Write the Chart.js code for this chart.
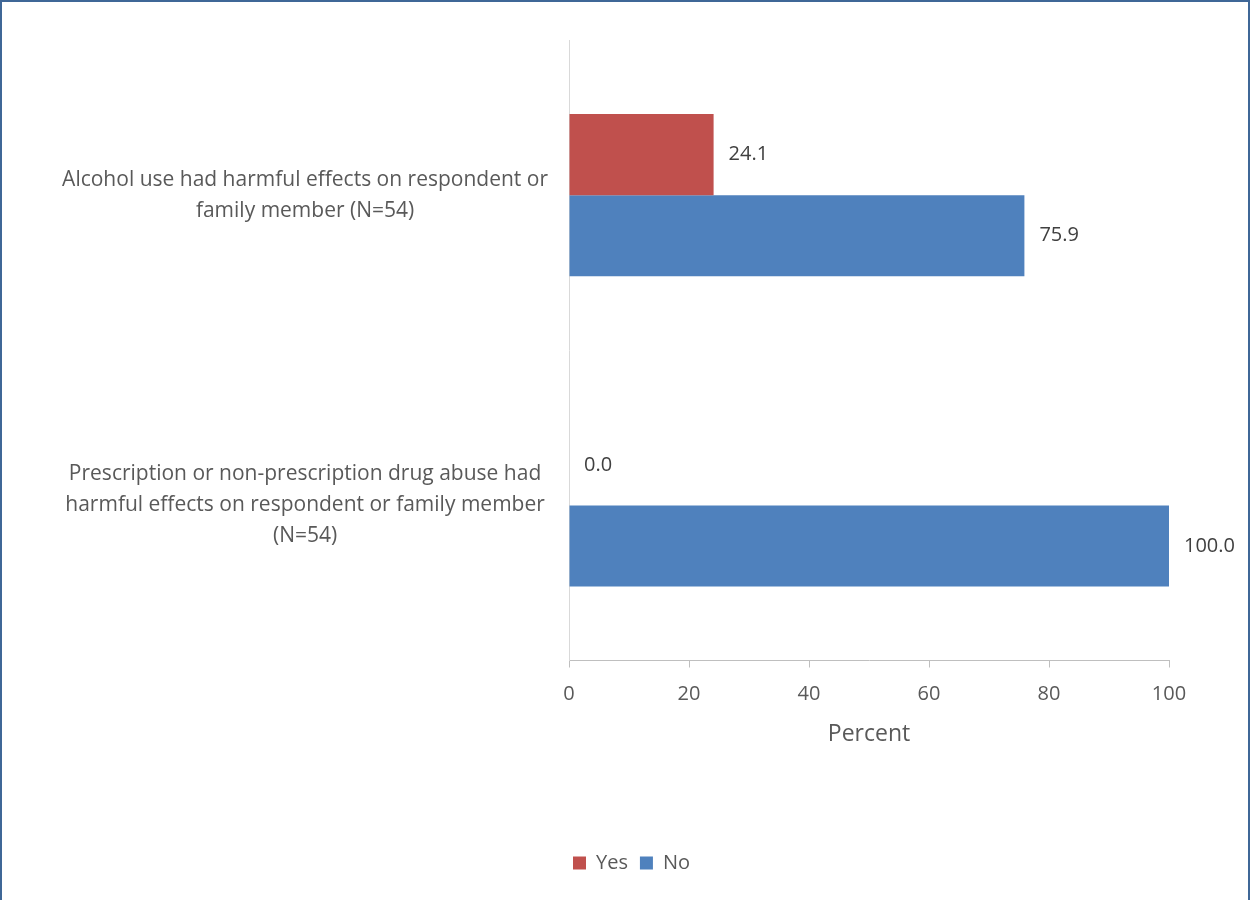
<!DOCTYPE html>
<html>
<head>
<meta charset="utf-8">
<script src="https://cdn.jsdelivr.net/npm/chart.js@4.4.1/dist/chart.umd.min.js"></script>
<style>
  html, body { margin: 0; padding: 0; background: #fff; }
  #wrap { position: relative; width: 1250px; height: 900px; }
  #frame {
    position: absolute; left: 0; top: 0; width: 1250px; height: 900px;
    box-sizing: border-box; border: 2px solid #3F6797; border-bottom: none;
    pointer-events: none;
  }
  canvas { position: absolute; left: 0; top: 0; }
</style>
</head>
<body>
<div id="wrap">
  <canvas id="harmChart" width="1250" height="900"></canvas>
  <div id="frame"></div>
</div>
<script>
const categories = [
    ['Alcohol use had harmful effects on respondent or', 'family member (N=54)'],
    ['Prescription or non-prescription drug abuse had', 'harmful effects on respondent or family member', '(N=54)'],
];
const yesValues = [24.1, 0.0];
const noValues = [75.9, 100.0];
const seriesNames = ['Yes', 'No'];
const xTicks = [0, 20, 40, 60, 80, 100];

const FONT = "'Open Sans', 'Noto Sans', sans-serif";

// value labels to the right of each bar
const barValueLabels = {
    id: 'barValueLabels',
    beforeDraw(chart) {
        // centre the legend on the whole frame rather than on the area left of the padding
        if (chart.legend) {
            chart.legend.left += 47;
            chart.legend.right += 47;
        }
    },
    afterDatasetsDraw(chart) {
        const ctx = chart.ctx;
        ctx.save();
        ctx.font = '20px ' + FONT;
        ctx.fillStyle = '#404040';
        ctx.textAlign = 'left';
        ctx.textBaseline = 'middle';
        chart.data.datasets.forEach((ds, i) => {
            const meta = chart.getDatasetMeta(i);
            meta.data.forEach((bar, j) => {
                ctx.fillText(ds.data[j].toFixed(1), bar.x + 15, bar.y);
            });
        });
        ctx.restore();
    },
};

new Chart(document.getElementById('harmChart'), {
    type: 'bar',
    data: {
        labels: categories,
        datasets: [
            {
                label: seriesNames[0],
                data: yesValues,
                backgroundColor: '#C0504D',
                borderWidth: 0,
                categoryPercentage: 0.5226,
                barPercentage: 1.0,
            },
            {
                label: seriesNames[1],
                data: noValues,
                backgroundColor: '#4F81BD',
                borderWidth: 0,
                categoryPercentage: 0.5226,
                barPercentage: 1.0,
            },
        ],
    },
    options: {
        indexAxis: 'y',
        responsive: false,
        animation: false,
        devicePixelRatio: 1,
        layout: {
            padding: { top: 40, right: 81, bottom: 17, left: 0 },
        },
        plugins: {
            legend: {
                position: 'bottom',
                labels: {
                    boxWidth: 13,
                    boxHeight: 13,
                    padding: 12,
                    color: '#595959',
                    font: { family: FONT, size: 20 },
                },
            },
            tooltip: { enabled: false },
        },
        scales: {
            x: {
                type: 'linear',
                min: 0,
                max: 100,
                afterBuildTicks(scale) {
                    scale.ticks = xTicks.map(v => ({ value: v }));
                },
                grid: {
                    drawOnChartArea: false,
                    drawTicks: true,
                    tickLength: 7,
                    color: '#BFBFBF',
                },
                border: { display: true, color: '#BFBFBF', width: 1 },
                ticks: {
                    padding: 15,
                    color: '#595959',
                    font: { family: FONT, size: 20 },
                },
                title: {
                    display: true,
                    text: 'Percent',
                    color: '#595959',
                    font: { family: FONT, size: 23, lineHeight: 1.0 },
                    padding: { top: 1, bottom: 95.5 },
                },
            },
            y: {
                grid: { display: false, drawTicks: false, tickLength: 0 },
                border: { display: true, color: '#D9D9D9', width: 1 },
                afterFit(scale) {
                    scale.width = 569;
                    scale.paddingTop = 0;
                    scale.paddingBottom = 0;
                },
                ticks: {
                    crossAlign: 'center',
                    padding: 21,
                    color: '#595959',
                    font: { family: FONT, size: 21, lineHeight: 1.48 },
                },
            },
        },
    },
    plugins: [barValueLabels],
});
</script>
</body>
</html>
